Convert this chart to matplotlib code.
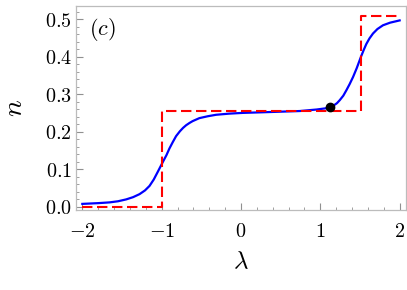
import numpy as np
import matplotlib
matplotlib.use("Agg")
import matplotlib.pyplot as plt
from matplotlib.ticker import MultipleLocator

plt.rcParams['mathtext.fontset'] = 'cm'
plt.rcParams['font.family'] = 'DejaVu Serif'

# blue curve
lam = [-2.0, -1.80, -1.657, -1.55, -1.447, -1.36, -1.279, -1.21, -1.153, -1.10,
       -1.048, -0.985, -0.94, -0.902, -0.86, -0.818, -0.77, -0.73, -0.692, -0.65,
       -0.61, -0.525, -0.42, -0.314, -0.15, 0.02, 0.32, 0.742, 0.952, 1.06,
       1.12, 1.17, 1.21, 1.245, 1.29, 1.33, 1.37, 1.413, 1.46, 1.509, 1.545,
       1.58, 1.62, 1.664, 1.72, 1.79, 1.88, 2.0]
n_curve = [0.007, 0.009, 0.011, 0.014, 0.019, 0.025, 0.033, 0.043, 0.055, 0.072,
           0.093, 0.119, 0.137, 0.155, 0.172, 0.188, 0.201, 0.210, 0.217, 0.223,
           0.228, 0.236, 0.241, 0.245, 0.248, 0.250, 0.252, 0.255, 0.259, 0.262,
           0.265, 0.270, 0.276, 0.284, 0.296, 0.311, 0.327, 0.346, 0.370, 0.398,
           0.417, 0.434, 0.449, 0.462, 0.474, 0.484, 0.491, 0.497]

# red dashed step
step_lam = [-2.0, -1.0, -1.0, 1.51, 1.51, 2.0]
step_n = [0.0, 0.0, 0.255, 0.255, 0.51, 0.51]

# marked point
dot_lam = [1.12]
dot_n = [0.265]

xticks = [-2, -1, 0, 1, 2]
xlabels = [r'$-2$', r'$-1$', r'$0$', r'$1$', r'$2$']
yticks = [0.0, 0.1, 0.2, 0.3, 0.4, 0.5]
ylabels = [r'$0.0$', r'$0.1$', r'$0.2$', r'$0.3$', r'$0.4$', r'$0.5$']

fig = plt.figure(figsize=(4.07, 2.9), dpi=100)
ax = fig.add_axes([0.1867, 0.2759, 0.8108, 0.7034])

ax.plot(lam, n_curve, color='#0000ff', lw=1.6, zorder=2)
ax.plot(step_lam, step_n, color='#ff0000', lw=1.5, dashes=(5, 2.2), zorder=3)
ax.plot(dot_lam, dot_n, 'o', color='black', ms=6, zorder=4)

ax.set_xlim(-2.08, 2.08)
ax.set_ylim(-0.0093, 0.5355)

ax.set_xticks(xticks)
ax.set_xticklabels(xlabels)
ax.set_yticks(yticks)
ax.set_yticklabels(ylabels)
ax.xaxis.set_minor_locator(MultipleLocator(0.2))
ax.yaxis.set_minor_locator(MultipleLocator(0.02))

for s in ax.spines.values():
    s.set_color('#bcbcbc')
    s.set_linewidth(0.9)

ax.tick_params(which='both', direction='in', color='#909090', labelsize=14.5,
               top=False, right=False)
ax.tick_params(which='major', length=5, width=0.8)
ax.tick_params(which='minor', length=2.5, width=0.6)
ax.tick_params(axis='x', which='major', pad=9)
ax.tick_params(axis='y', which='major', pad=3)

ax.set_xlabel(r'$\lambda$', fontsize=18, labelpad=6)
ax.set_ylabel(r'$n$', fontsize=20, labelpad=12)

ax.text(-1.75, 0.474, r'$(c)$', fontsize=16, ha='center', va='center')

fig.savefig('out.png', dpi=100)
